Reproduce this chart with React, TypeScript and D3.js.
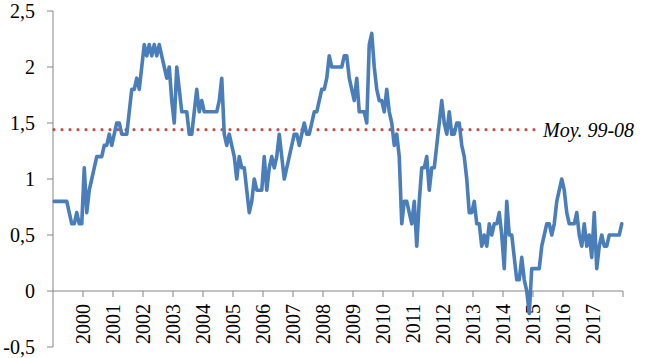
import React from 'react';
import * as d3 from 'd3';

// monthly values, Jan 1999 -> Dec 2017 (one row per year)
const values = [
  0.8, 0.8, 0.8, 0.8, 0.8, 0.8, 0.7, 0.6, 0.6, 0.7, 0.6, 0.6,
  1.1, 0.7, 0.9, 1.0, 1.1, 1.2, 1.2, 1.2, 1.3, 1.3, 1.4, 1.3,
  1.4, 1.5, 1.5, 1.4, 1.4, 1.4, 1.6, 1.8, 1.8, 1.9, 1.8, 2.0,
  2.2, 2.1, 2.2, 2.1, 2.2, 2.1, 2.2, 2.1, 2.0, 1.9, 2.0, 1.7,
  1.5, 2.0, 1.8, 1.6, 1.6, 1.6, 1.4, 1.4, 1.6, 1.8, 1.6, 1.7,
  1.6, 1.6, 1.6, 1.6, 1.6, 1.6, 1.7, 1.9, 1.4, 1.3, 1.4, 1.3,
  1.2, 1.0, 1.2, 1.1, 1.1, 0.9, 0.7, 0.8, 1.0, 0.9, 0.9, 0.9,
  1.2, 0.9, 1.1, 1.2, 1.1, 1.2, 1.4, 1.2, 1.0, 1.1, 1.2, 1.3,
  1.4, 1.4, 1.3, 1.4, 1.5, 1.4, 1.4, 1.5, 1.6, 1.6, 1.7, 1.8,
  1.8, 1.9, 2.1, 2.0, 2.0, 2.0, 2.0, 2.0, 2.1, 2.1, 1.9, 1.8,
  1.7, 1.9, 1.6, 1.6, 1.6, 1.5, 2.2, 2.3, 2.0, 1.8, 1.7, 1.7,
  1.6, 1.8, 1.6, 1.5, 1.3, 1.4, 1.2, 0.6, 0.8, 0.8, 0.7, 0.6,
  0.8, 0.4, 0.8, 1.1, 1.1, 1.2, 0.9, 1.1, 1.1, 1.3, 1.5, 1.7,
  1.5, 1.4, 1.6, 1.4, 1.4, 1.5, 1.5, 1.3, 1.2, 1.0, 0.7, 0.7,
  0.8, 0.6, 0.6, 0.4, 0.5, 0.4, 0.6, 0.5, 0.6, 0.6, 0.7, 0.5,
  0.2, 0.8, 0.5, 0.5, 0.3, 0.1, 0.1, 0.3, 0.1, 0.0, -0.2, 0.2,
  0.2, 0.2, 0.2, 0.4, 0.5, 0.6, 0.6, 0.5, 0.6, 0.8, 0.9, 1.0,
  0.9, 0.7, 0.6, 0.6, 0.6, 0.7, 0.5, 0.4, 0.6, 0.4, 0.5, 0.3,
  0.7, 0.2, 0.4, 0.5, 0.4, 0.4, 0.5, 0.5, 0.5, 0.5, 0.5, 0.6,
];

const yearLabels = ['2000', '2001', '2002', '2003', '2004', '2005', '2006', '2007', '2008',
  '2009', '2010', '2011', '2012', '2013', '2014', '2015', '2016', '2017'];
const yTicks = [-0.5, 0, 0.5, 1, 1.5, 2, 2.5];

const avgValue = 1.44;
const avgLabel = 'Moy. 99-08';
const avgEndMonth = 193; // dotted line stops around here

const W = 647;
const H = 358;
const font = '"Liberation Serif", "Times New Roman", serif';

export default function App() {
  const n = values.length;
  const x = d3.scaleLinear().domain([0, n]).range([53, 623]);
  const y = d3.scaleLinear().domain([-0.5, 2.5]).range([347, 11]);

  const line = d3.line<number>()
    .x((d, i) => x(i + 0.5))
    .y((d) => y(d));

  const yearTicks = d3.range(1, n / 12 + 1).map((k) => k * 12);
  const fmt = (v: number) => String(v).replace('.', ',');

  return (
    <svg width={W} height={H} style={{ position: 'absolute', left: 0, top: 0, background: '#fff' }}
      fontFamily={font}>
      {/* y axis */}
      <line x1={x(0)} x2={x(0)} y1={y(2.5)} y2={y(-0.5)} stroke="#868686" strokeWidth={1} />
      {yTicks.map((t) => (
        <g key={t}>
          <line x1={x(0) - 6} x2={x(0)} y1={y(t)} y2={y(t)} stroke="#868686" />
          <text x={35} y={y(t)} dy="0.35em" textAnchor="end" fontSize={20} fill="#000">{fmt(t)}</text>
        </g>
      ))}

      {/* x axis at zero */}
      <line x1={x(0)} x2={x(n)} y1={y(0)} y2={y(0)} stroke="#868686" />
      {yearTicks.map((m, i) => (
        <g key={m}>
          <line x1={x(m)} x2={x(m)} y1={y(0)} y2={y(0) + 6} stroke="#868686" />
          {yearLabels[i] && (
            <text transform={`translate(${x(m)},${y(0) + 13}) rotate(-90)`} dy="0.35em"
              textAnchor="end" fontSize={20} fill="#000">{yearLabels[i]}</text>
          )}
        </g>
      ))}

      {/* average */}
      <line x1={x(0) + 1} x2={x(avgEndMonth)} y1={y(avgValue)} y2={y(avgValue)}
        stroke="#C0504D" strokeWidth={3.2} strokeLinecap="round" strokeDasharray="0 8" />
      <text x={543} y={y(avgValue)} dy="0.35em" fontSize={20} fontStyle="italic" fill="#000">{avgLabel}</text>

      {/* series */}
      <path d={line(values) || ''} fill="none" stroke="#4A7EBB" strokeWidth={3.6}
        strokeLinejoin="round" strokeLinecap="round" />
    </svg>
  );
}
